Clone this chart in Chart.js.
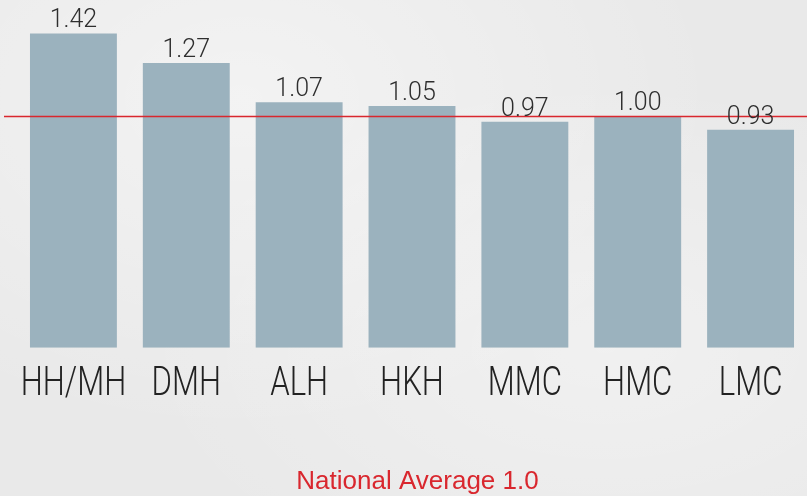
<!DOCTYPE html>
<html>
<head>
<meta charset="utf-8">
<script src="https://cdn.jsdelivr.net/npm/chart.js@4"></script>
<style>
  html, body { margin: 0; padding: 0; }
  body {
    width: 807px; height: 496px; overflow: hidden;
    background-color: #e9e9e9;
    background-image:
      radial-gradient(ellipse at 30% 20%, rgba(255,255,255,0.45), rgba(255,255,255,0) 60%),
      radial-gradient(ellipse at 75% 70%, rgba(255,255,255,0.35), rgba(255,255,255,0) 55%);
  }
  #wrap { position: relative; width: 807px; height: 496px; }
</style>
</head>
<body>
<div id="wrap"><canvas id="chart"></canvas></div>
<script>
// data
const categories = ["HH/MH", "DMH", "ALH", "HKH", "MMC", "HMC", "LMC"];
const ratios = [1.42, 1.27, 1.07, 1.05, 0.97, 1.00, 0.93];
const valueLabels = ["1.42", "1.27", "1.07", "1.05", "0.97", "1.00", "0.93"];
const NATIONAL_AVERAGE = 1.0;
const footnote = "National Average 1.0";

// the original axis doesn't start at zero
const Y_MIN = -0.18;
const Y_MAX = 1.59;

const BAR_COLOR = '#9bb2be';
const RED = '#d9272e';

// value labels on top of bars + condensed category labels + red average line
const decorPlugin = {
  id: 'decor',
  afterDatasetsDraw(chart) {
    const ctx = chart.ctx;
    const xs = chart.scales.x, ys = chart.scales.y;
    const meta = chart.getDatasetMeta(0);

    // national average line
    const yAvg = Math.round(ys.getPixelForValue(NATIONAL_AVERAGE)) + 0.5;
    ctx.save();
    ctx.strokeStyle = RED;
    ctx.lineWidth = 1.6;
    ctx.beginPath();
    ctx.moveTo(4, yAvg);
    ctx.lineTo(chart.width, yAvg);
    ctx.stroke();
    ctx.restore();

    // numbers above bars
    ctx.save();
    ctx.fillStyle = '#2e2e2e';
    ctx.font = '300 25px Roboto, "Liberation Sans", sans-serif';
    ctx.textAlign = 'center';
    ctx.textBaseline = 'alphabetic';
    meta.data.forEach((bar, i) => {
      ctx.fillText(valueLabels[i], bar.x, bar.y - 6);
    });
    ctx.restore();

    // category names, squeezed to look condensed
    ctx.save();
    ctx.fillStyle = '#222';
    ctx.font = '300 41px Roboto, "Liberation Sans", sans-serif';
    ctx.textAlign = 'center';
    ctx.textBaseline = 'alphabetic';
    const squeeze = 0.76;
    categories.forEach((c, i) => {
      const x = xs.getPixelForValue(i);
      ctx.save();
      ctx.translate(x, 395);
      ctx.scale(squeeze, 1);
      ctx.fillText(c, 0, 0);
      ctx.restore();
    });
    ctx.restore();
  }
};

new Chart(document.getElementById('chart'), {
  type: 'bar',
  data: {
    labels: categories,
    datasets: [{
      data: ratios,
      base: Y_MIN,
      backgroundColor: BAR_COLOR,
      borderWidth: 0,
      barPercentage: 0.77,
      categoryPercentage: 1.0
    }]
  },
  options: {
    responsive: true,
    maintainAspectRatio: false,
    animation: false,
    layout: { padding: { left: 17, right: -11, top: 0, bottom: 0 } },
    scales: {
      x: { display: false },
      y: { display: false, min: Y_MIN, max: Y_MAX }
    },
    plugins: {
      legend: { display: false },
      tooltip: { enabled: false },
      title: {
        display: true,
        position: 'bottom',
        text: footnote,
        color: RED,
        font: { family: '"Liberation Sans", Arial, sans-serif', size: 26, weight: 'normal', lineHeight: 1.2 },
        padding: { top: 118, bottom: -1 }
      }
    }
  },
  plugins: [decorPlugin]
});
</script>
</body>
</html>
